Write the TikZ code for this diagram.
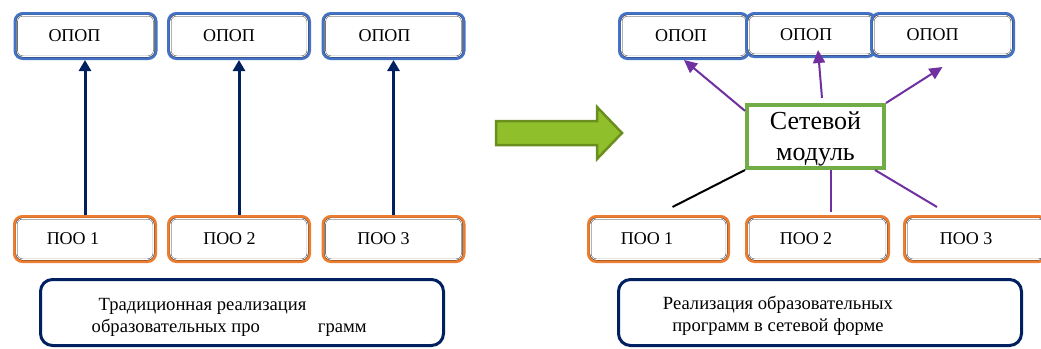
\documentclass[tikz,border=0pt]{standalone}
\usepackage{fontspec}
\setmainfont{Liberation Serif}
\usetikzlibrary{arrows.meta, positioning}
\definecolor{opopline}{HTML}{4472C4}
\definecolor{pooline}{HTML}{ED7D31}
\definecolor{navyline}{HTML}{002060}
\definecolor{modline}{HTML}{70AD47}
\definecolor{linkline}{HTML}{7030A0}
\definecolor{bigfill}{HTML}{8FC02B}
\definecolor{bigline}{HTML}{6A8F1E}
\tikzset{
  opop/.style  = {rectangle, rounded corners=6pt, preaction={draw=opopline, line width=7pt},
                  fill=white, draw=black!85, line width=0.4pt, double=white, double distance=0.7pt,
                  minimum height=41pt, inner sep=0pt, outer sep=3.5pt},
  poo/.style   = {rectangle, rounded corners=6pt, preaction={draw=pooline, line width=7pt},
                  fill=white, draw=black!85, line width=0.4pt, double=white, double distance=0.7pt,
                  minimum height=41pt, minimum width=137pt, inner sep=0pt, outer sep=3.5pt},
  note/.style  = {rectangle, rounded corners=12pt, draw=navyline, line width=3pt,
                  minimum width=403pt, minimum height=66pt, inner sep=0pt},
  modblk/.style= {rectangle, draw=modline, line width=4pt, fill=white,
                  minimum width=137pt, minimum height=63pt, inner sep=0pt},
  txt/.style   = {font=\fontsize{18}{21}\selectfont, inner sep=0pt},
  notetxt/.style = {font=\fontsize{18.6}{21.5}\selectfont, inner sep=0pt},
  modtxt/.style  = {font=\fontsize{26}{31}\selectfont, align=center, inner sep=0pt},
  up/.style    = {-{Triangle[length=11pt, width=12pt]}, line width=3pt, draw=navyline},
  link/.style  = {-{Triangle[length=13pt, width=12pt]}, line width=2pt, draw=linkline},
  plain/.style = {line width=2pt, draw=linkline},
  bigarrow/.style = {draw=bigline, fill=bigfill, line width=2.5pt, line join=miter},
}
\begin{document}
\begin{tikzpicture}[x=1pt, y=-1pt]
    \useasboundingbox (0,0) rectangle (1041,348);
    % traditional
    \node[opop, minimum width=137pt, label={[txt, xshift=-11pt]center:ОПОП}] (lo1) at (85.5,36) {};
    \node[opop, minimum width=137pt, label={[txt, xshift=-10pt]center:ОПОП}] (lo2) at (239,36) {};
    \node[opop, minimum width=137pt, label={[txt, xshift=-9pt]center:ОПОП}] (lo3) at (393.5,36) {};
    \node[poo, label={[txt, xshift=-12pt]center:ПОО 1}] (lp1) at (85,239) {};
    \node[poo, label={[txt, xshift=-9.5pt]center:ПОО 2}] (lp2) at (239,239) {};
    \node[poo, label={[txt, xshift=-10pt]center:ПОО 3}] (lp3) at (393.5,239) {};
    \foreach \i in {1,2,3}{\draw[up] (lp\i.north) -- (lp\i.north |- lo\i.south);}
    \node[note, label={[notetxt, align=left, anchor=west, xshift=52.5pt, yshift=-5pt]west:\hspace*{7pt}Традиционная реализация\\образовательных про\hspace{58pt}грамм}] (lnote) at (242,312.5) {};
    % transition
    \draw[bigarrow] (496,121) -- (597,121) -- (597,107) -- (622,133) -- (597,159) -- (597,145) -- (496,145) -- cycle;
    % network form
    \node[opop, minimum width=125pt, label={[txt, xshift=-3pt]center:ОПОП}] (ro1) at (684,36) {};
    \node[opop, minimum width=125pt, minimum height=39pt, label={[txt, xshift=-5pt]center:ОПОП}] (ro2) at (811,35) {};
    \node[opop, minimum width=138pt, minimum height=39pt, label={[txt, xshift=-10pt]center:ОПОП}] (ro3) at (942.5,35) {};
    \node[modblk, label={[modtxt, yshift=-2.5pt]center:Сетевой\\модуль}] (mod) at (815.5,136.5) {};
    \node[poo, minimum width=136pt, label={[txt, xshift=-11.5pt]center:ПОО 1}] (rp1) at (658.5,239) {};
    \node[poo, minimum width=138pt, label={[txt, xshift=-11.5pt]center:ПОО 2}] (rp2) at (817.5,239) {};
    \node[poo, minimum width=138pt, label={[txt, xshift=-9.5pt]center:ПОО 3}] (rp3) at (975.5,239) {};
    \draw[link] (mod.160) -- (ro1.south);
    \draw[link] ([xshift=6.5pt, yshift=5pt]mod.north) -- ([xshift=7pt, yshift=8pt]ro2.south);
    \draw[link] (mod.north east) -- ([yshift=-9pt]ro3.south);
    \draw[line width=2pt] (mod.south west) -- ([xshift=14pt, yshift=8pt]rp1.north);
    \draw[plain] ([xshift=15.5pt]mod.south) -- ([xshift=13.5pt, yshift=3pt]rp2.north);
    \draw[plain] ([xshift=-11pt]mod.south east) -- ([xshift=-38.5pt, yshift=8pt]rp3.north);
    \node[note, label={[notetxt, align=center, xshift=-42pt, yshift=-3.5pt]center:Реализация образовательных\\программ в сетевой форме}] (rnote) at (820,312.5) {};
\end{tikzpicture}
\end{document}
